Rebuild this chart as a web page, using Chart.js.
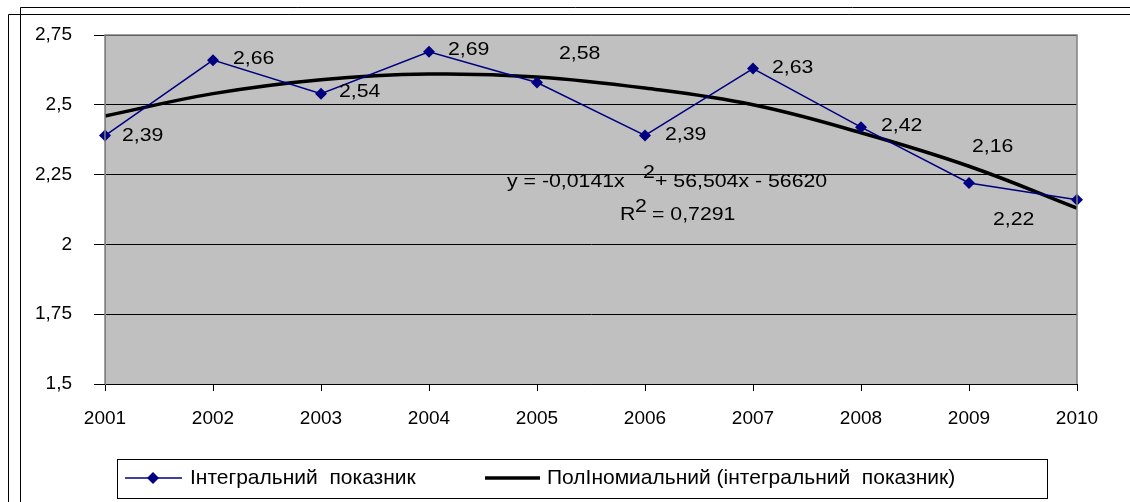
<!DOCTYPE html>
<html>
<head>
<meta charset="utf-8">
<script src="https://cdn.jsdelivr.net/npm/chart.js@4.4.1/dist/chart.umd.min.js"></script>
<style>
  html, body { margin: 0; padding: 0; background: #fff; }
  #wrap { width: 1130px; height: 502px; }
</style>
</head>
<body>
<div id="wrap"><canvas id="chart"></canvas></div>
<script>
// data
const years = ['2001', '2002', '2003', '2004', '2005', '2006', '2007', '2008', '2009', '2010'];
const integral = [2.39, 2.66, 2.54, 2.69, 2.58, 2.39, 2.63, 2.42, 2.22, 2.16];
const trend = [2.46, 2.54, 2.59, 2.61, 2.60, 2.56, 2.50, 2.40, 2.28, 2.13];
const seriesNames = ['Інтегральний  показник', 'ПолІномиальний (інтегральний  показник)'];

const FAMILY = '"Liberation Sans", Arial, sans-serif';
const FONT = '19px ' + FAMILY;
const LEGEND_FONT = '21px ' + FAMILY;
const NAVY = '#000080';
const STRETCH = 1.12; // the original text is a bit wider than the font

// where each value label sits relative to its point (Excel labels were dragged around)
const labelOffsets = [
  [17, 0], [20, -1], [18, -2], [19, -2], [22, -29],
  [20, -1], [19, -1], [20, -1], [24, 37], [-105, -53]
];

const fmt = v => String(v).replace('.', ',');

function wideText(ctx, txt, x, y) {
  ctx.save();
  ctx.translate(x, y);
  ctx.scale(STRETCH, 1);
  ctx.fillText(txt, 0, 0);
  ctx.restore();
}

const decor = {
  id: 'decor',
  beforeDraw(chart) {
    const { ctx, chartArea: a } = chart;
    ctx.save();
    ctx.fillStyle = '#fff';
    ctx.fillRect(0, 0, chart.width, chart.height);
    // outer frames
    ctx.strokeStyle = '#000';
    ctx.lineWidth = 1;
    ctx.beginPath();
    ctx.moveTo(20.5, 502); ctx.lineTo(20.5, 7.5); ctx.lineTo(1130, 7.5);
    ctx.moveTo(8.5, 502); ctx.lineTo(8.5, 14.5); ctx.lineTo(1130, 14.5);
    ctx.stroke();
    // grey plot area
    ctx.fillStyle = '#c0c0c0';
    ctx.fillRect(a.left, a.top, a.right - a.left, a.bottom - a.top);
    ctx.restore();
  },
  afterDatasetsDraw(chart) {
    const { ctx, chartArea: a } = chart;
    ctx.save();
    // plot border
    ctx.strokeStyle = '#808080';
    ctx.lineWidth = 1.5;
    ctx.beginPath();
    ctx.moveTo(a.left, a.bottom); ctx.lineTo(a.left, a.top); ctx.lineTo(a.right, a.top); ctx.lineTo(a.right, a.bottom);
    ctx.stroke();

    // value labels
    ctx.font = FONT;
    ctx.fillStyle = '#000';
    ctx.textBaseline = 'middle';
    ctx.textAlign = 'left';
    const meta = chart.getDatasetMeta(0);
    meta.data.forEach((pt, i) => {
      const [dx, dy] = labelOffsets[i];
      wideText(ctx, fmt(integral[i]), pt.x + dx, pt.y + dy);
    });

    // trend equation
    wideText(ctx, 'y = -0,0141x', 507, 182);
    wideText(ctx, '2', 643, 173);
    wideText(ctx, '+ 56,504x - 56620', 655, 182);
    wideText(ctx, 'R', 620, 215);
    wideText(ctx, '2', 635, 207);
    wideText(ctx, '= 0,7291', 652, 215);

    // legend
    ctx.strokeStyle = '#000';
    ctx.lineWidth = 1;
    ctx.strokeRect(117.5, 459.5, 930, 39);
    const ly = 478;
    ctx.strokeStyle = NAVY;
    ctx.lineWidth = 1.5;
    ctx.beginPath(); ctx.moveTo(125, ly); ctx.lineTo(182, ly); ctx.stroke();
    ctx.fillStyle = NAVY;
    ctx.beginPath();
    ctx.moveTo(153, ly - 6); ctx.lineTo(159, ly); ctx.lineTo(153, ly + 6); ctx.lineTo(147, ly);
    ctx.closePath(); ctx.fill();
    ctx.strokeStyle = '#000';
    ctx.lineWidth = 3.5;
    ctx.beginPath(); ctx.moveTo(485, ly); ctx.lineTo(540, ly); ctx.stroke();
    ctx.fillStyle = '#000';
    ctx.font = LEGEND_FONT;
    ctx.fillText(seriesNames[0], 190, ly);
    ctx.fillText(seriesNames[1], 547, ly);
    ctx.restore();
  }
};

new Chart(document.getElementById('chart'), {
  type: 'line',
  data: {
    labels: years,
    datasets: [
      {
        label: seriesNames[0],
        data: integral,
        borderColor: NAVY,
        backgroundColor: NAVY,
        borderWidth: 1.5,
        pointStyle: 'rectRot',
        pointRadius: 6,
        pointBorderWidth: 0,
        tension: 0,
        order: 1
      },
      {
        label: seriesNames[1],
        data: trend,
        borderColor: '#000',
        borderWidth: 3.5,
        pointRadius: 0,
        tension: 0.4,
        order: 2
      }
    ]
  },
  plugins: [decor],
  options: {
    responsive: true,
    maintainAspectRatio: false,
    animation: false,
    layout: { padding: { left: 0, right: 53, top: 35, bottom: 0 } },
    plugins: { legend: { display: false }, tooltip: { enabled: false } },
    scales: {
      x: {
        offset: false,
        grid: { drawOnChartArea: false, drawTicks: true, tickLength: 7, color: '#000' },
        border: { color: '#000', width: 1 },
        ticks: { color: '#000', font: { family: FAMILY, size: 19 }, padding: 16, maxRotation: 0, autoSkip: false },
        afterFit(scale) { scale.height = 118; }
      },
      y: {
        min: 1.5,
        max: 2.75,
        grid: { color: '#000', lineWidth: 1, tickLength: 11 },
        border: { color: '#808080', width: 1 },
        ticks: {
          stepSize: 0.25,
          color: '#000',
          padding: 22,
          font: { family: FAMILY, size: 19 },
          callback: v => fmt(v)
        },
        afterFit(scale) { scale.width = 105; }
      }
    }
  }
});
</script>
</body>
</html>
